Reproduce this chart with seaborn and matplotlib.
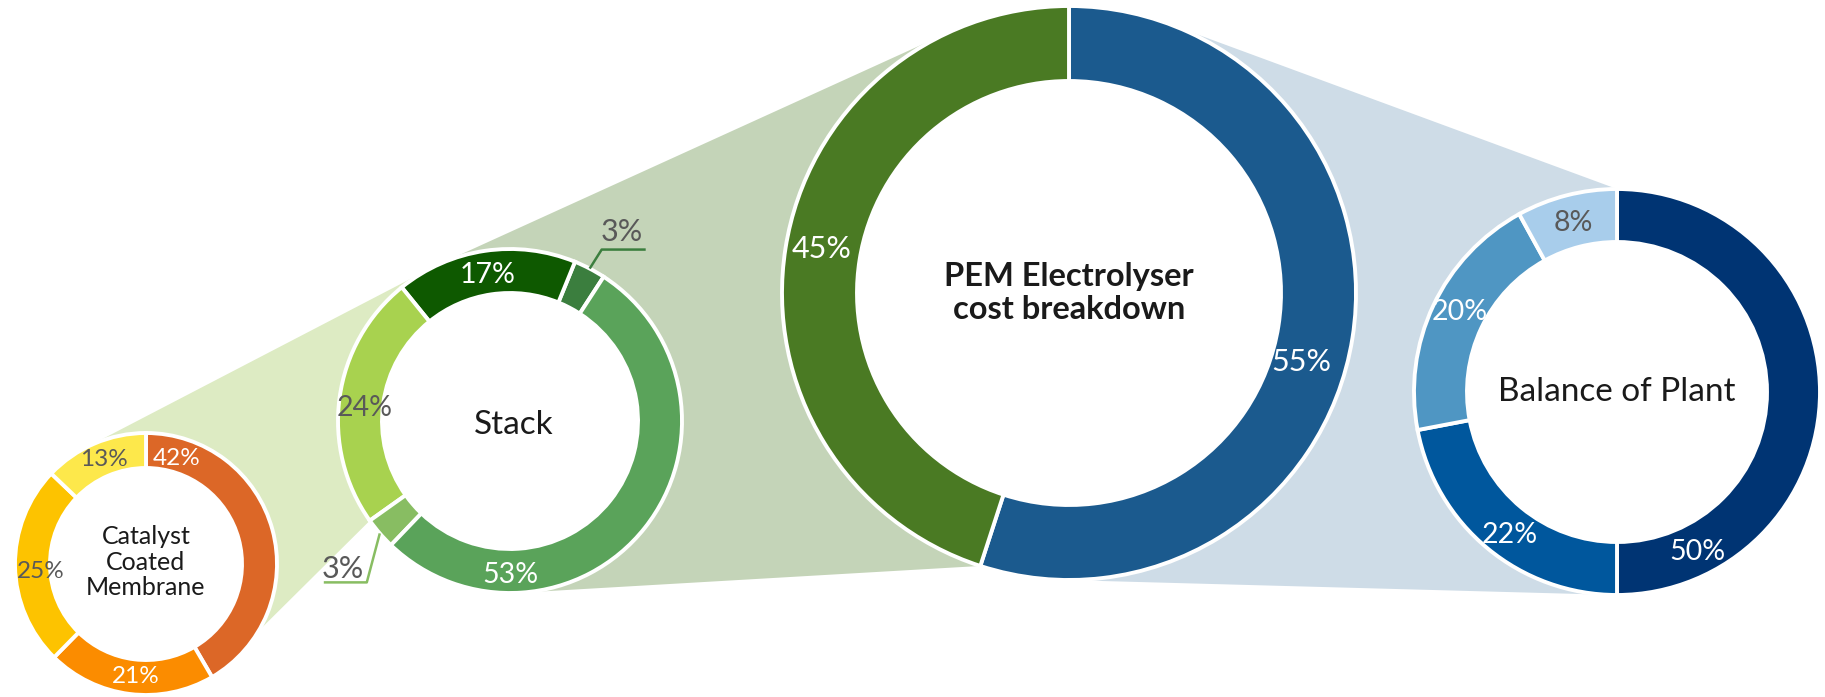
import numpy as np
import matplotlib
matplotlib.use("Agg")
import matplotlib.pyplot as plt
import seaborn as sns
from matplotlib.patches import Polygon, Circle

# ---------------- data ----------------
main_names = ["Balance of Plant", "Stack"]
main_values = [55, 45]
bop_values = [50, 22, 20, 8]
stack_values = [3, 17, 24, 3, 53]
ccm_values = [42, 21, 25, 13]

main_title = "PEM Electrolyser\ncost breakdown"
bop_title = "Balance of Plant"
stack_title = "Stack"
ccm_title = "Catalyst\nCoated\nMembrane"

# ---------------- styles ----------------
main_colors = ["#1B5A8E", "#4A7A23"]
bop_colors = ["#003473", "#00579D", "#4F96C3", "#A8CDEB"]
stack_colors = ["#3B7E3E", "#0E5900", "#A8D24F", "#88BD62", "#5AA35A"]
ccm_colors = ["#DC6727", "#FB8C00", "#FDC300", "#FDE84B"]

WHITE = "#FFFFFF"
GREY = "#595959"
DARK = "#1A1A1A"
main_txt = [WHITE, WHITE]
bop_txt = [WHITE, WHITE, WHITE, GREY]
stack_txt = [GREY, WHITE, GREY, GREY, WHITE]
ccm_txt = [WHITE, WHITE, GREY, GREY]

poly_blue = "#CEDCE7"
poly_green = "#C4D4B8"
poly_light = "#DDEBC3"

sns.set_theme(style="white")
plt.rcParams["font.family"] = ["Lato", "DejaVu Sans"]

# ---------------- layout (pixel space, y up) ----------------
W, H = 1825, 697
main_c, main_r, main_ri = (1069, 404), 287, 212
bop_c, bop_r, bop_ri = (1617, 305), 203, 150
stack_c, stack_r, stack_ri = (510, 276), 172, 128
ccm_c, ccm_r, ccm_ri = (146, 133), 131, 96

# label angle (deg) and radius for each slice (None -> leader label)
main_lab = [(-16.6, 242), (170, 251)]
bop_lab = [(296.6, 179), (233, 179), (153, 176), (104.6, 175)]
stack_lab = [None, (98.6, 148), (175, 146), None, (270, 154)]
ccm_lab = [(73.7, 110), (265, 113), (184, 106), (112, 113)]

fig = plt.figure(figsize=(W / 100, H / 100), dpi=100)
fig.patch.set_facecolor("white")
ax = fig.add_axes([0, 0, 1, 1])


def donut(values, colors, center, r_out, r_in, start, ccw):
    wedges, _ = ax.pie(values, colors=colors, radius=r_out, center=center,
                       startangle=start, counterclock=ccw, frame=True,
                       wedgeprops=dict(width=r_out - r_in, edgecolor="white",
                                       linewidth=2.8, zorder=3))
    ax.add_patch(Circle(center, r_in, facecolor="white", edgecolor="none", zorder=2))
    return wedges


def pt(center, r, ang):
    a = np.deg2rad(ang)
    return np.array([center[0] + r * np.cos(a), center[1] + r * np.sin(a)])


def ext_tangent(c1, r1, c2, r2, upper=True):
    c1, c2 = np.array(c1, float), np.array(c2, float)
    d = c2 - c1
    D = np.linalg.norm(d)
    u = d / D
    perp = np.array([-u[1], u[0]])
    k = (r1 - r2) / D
    s = np.sqrt(1 - k * k)
    cands = [k * u + s * perp, k * u - s * perp]
    n = max(cands, key=lambda v: v[1]) if upper else min(cands, key=lambda v: v[1])
    return c1 + r1 * n, c2 + r2 * n


def point_tangent(P, c, r, upper=True):
    P, c = np.array(P, float), np.array(c, float)
    v = P - c
    d = np.linalg.norm(v)
    a = np.arctan2(v[1], v[0])
    off = np.arccos(r / d)
    cands = [c + r * np.array([np.cos(a + off), np.sin(a + off)]),
             c + r * np.array([np.cos(a - off), np.sin(a - off)])]
    return max(cands, key=lambda t: t[1]) if upper else min(cands, key=lambda t: t[1])


main_w = donut(main_values, main_colors, main_c, main_r, main_ri, 90, False)
bop_w = donut(bop_values, bop_colors, bop_c, bop_r, bop_ri, 90, False)
stack_w = donut(stack_values, stack_colors, stack_c, stack_r, stack_ri, 57, True)
ccm_w = donut(ccm_values, ccm_colors, ccm_c, ccm_r, ccm_ri, 90, False)

# ---- connector polygons ----
# main -> balance of plant
bp_top = pt(bop_c, bop_r, bop_w[0].theta2)
bp_bot = pt(bop_c, bop_r, bop_w[0].theta1)
t_top = point_tangent(bp_top, main_c, main_r, upper=True)
t_bot = point_tangent(bp_bot, main_c, main_r, upper=False)
ax.add_patch(Polygon([t_top, bp_top, bp_bot, t_bot], closed=True,
                     facecolor=poly_blue, edgecolor="none", zorder=1))

# main -> stack
m_up, s_up = ext_tangent(main_c, main_r, stack_c, stack_r, upper=True)
m_low = pt(main_c, main_r, main_w[0].theta1)
s_low = point_tangent(m_low, stack_c, stack_r, upper=False)
ax.add_patch(Polygon([m_up, s_up, s_low, m_low], closed=True,
                     facecolor=poly_green, edgecolor="none", zorder=1))

# stack -> catalyst coated membrane
s2_up, c_up = ext_tangent(stack_c, stack_r, ccm_c, ccm_r, upper=True)
s2_low = pt(stack_c, stack_r, stack_w[2].theta2)
c_low = pt(ccm_c, ccm_r, ccm_w[0].theta1)
ax.add_patch(Polygon([s2_up, c_up, c_low, s2_low], closed=True,
                     facecolor=poly_light, edgecolor="none", zorder=1.1))


# ---- labels ----
def put_labels(values, center, lab, colors, size):
    for v, l, col in zip(values, lab, colors):
        if l is None:
            continue
        p = pt(center, l[1], l[0])
        ax.text(p[0], p[1], f"{v}%", ha="center", va="center", color=col,
                fontsize=size, zorder=5)


put_labels(main_values, main_c, main_lab, main_txt, 22)
put_labels(bop_values, bop_c, bop_lab, bop_txt, 20.5)
put_labels(stack_values, stack_c, stack_lab, stack_txt, 20.5)
put_labels(ccm_values, ccm_c, ccm_lab, ccm_txt, 17.5)

# leader labels for the two small stack slices
leaders = [
    (0, (12, 19), (56, 19), (32, 37), "#3B7E3E"),
    (3, (-13, -49), (-56, -49), (-37, -36), "#88BD62"),
]
for idx, elbow, end, txt, col in leaders:
    w = stack_w[idx]
    s = pt(stack_c, stack_r, (w.theta1 + w.theta2) / 2)
    xs = [s[0], s[0] + elbow[0], s[0] + end[0]]
    ys = [s[1], s[1] + elbow[1], s[1] + end[1]]
    ax.plot(xs, ys, color=col, lw=1.8, zorder=4, solid_capstyle="butt")
    ax.text(s[0] + txt[0], s[1] + txt[1], f"{stack_values[idx]}%", ha="center",
            va="center", color=GREY, fontsize=22, zorder=5)

# centre titles
ax.text(main_c[0], main_c[1], main_title, ha="center", va="center",
        fontsize=23.5, fontweight="bold", color=DARK, linespacing=1.2, zorder=5)
ax.text(bop_c[0], bop_c[1], bop_title, ha="center", va="center",
        fontsize=24, color=DARK, zorder=5)
ax.text(stack_c[0] + 4, stack_c[1] - 4, stack_title, ha="center", va="center",
        fontsize=24, color=DARK, zorder=5)
ax.text(ccm_c[0], ccm_c[1] + 2, ccm_title, ha="center", va="center",
        fontsize=18, color=DARK, linespacing=1.15, zorder=5)

ax.set_xlim(0, W)
ax.set_ylim(0, H)
ax.set_aspect("auto")
ax.axis("off")

fig.savefig("out.png", dpi=100, facecolor="white")
